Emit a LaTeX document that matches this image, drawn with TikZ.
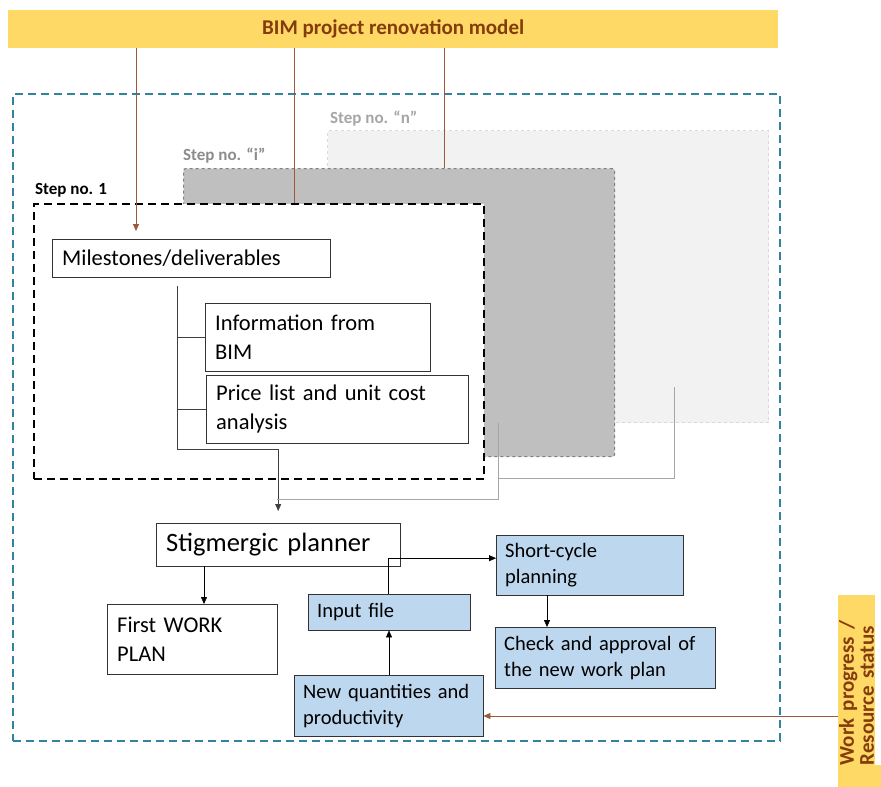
\documentclass[tikz,border=0pt]{standalone}
\usepackage{fontspec}
\setmainfont{Carlito}
\usetikzlibrary{arrows.meta,positioning}
\definecolor{baryellow}{HTML}{FFD966}
\definecolor{textbrown}{HTML}{843C0C}
\definecolor{linebrown}{HTML}{9C5A3C}
\definecolor{frameteal}{HTML}{31849B}
\definecolor{boxblue}{HTML}{BDD7EE}
\definecolor{lightstep}{HTML}{F2F2F2}
\definecolor{darkstep}{HTML}{BFBFBF}
\definecolor{linegray}{HTML}{A6A6A6}
\newcommand{\fsz}[2]{\fontsize{#1}{#2}\selectfont}

\begin{document}
\begin{tikzpicture}[
	x=1pt,y=-1pt,
	box/.style={
		draw=black!80,
		fill=white,
		anchor=north west,
		align=left,
		inner xsep=10pt,
		inner ysep=2pt,
		font=\fsz{22.5}{29}},
	bluebox/.style={box,fill=boxblue,inner xsep=9pt,font=\fsz{20.5}{26}},
	stepbox/.style={anchor=north west,inner sep=0pt,dashed,line width=1.2pt},
	steplabel/.style={anchor=south west,inner sep=0pt,font=\bfseries\fsz{17}{19}},
	myarrow/.style={-{Triangle[length=7pt,width=6pt]}},
	brownline/.style={draw=linebrown,line width=0.8pt},
	grayline/.style={draw=linegray,line width=0.9pt}
	]
	\clip (0,0) rectangle (881,787);
	\fill[white] (0,0) rectangle (881,787);
	
	% top bar and outer frame
	\node[fill=baryellow,anchor=north west,minimum width=770pt,minimum height=38pt,
		font=\bfseries\fsz{21}{24},text=textbrown] (bim) at (8,10) {BIM project renovation model};
	\node[draw=frameteal,dash pattern=on 8pt off 5pt,line width=1.5pt,anchor=north west,
		minimum width=767pt,minimum height=647pt] (frame) at (12,93) {};
	
	% steps
	\node[stepbox,draw=black!15,fill=lightstep,minimum width=441pt,minimum height=292pt] (stepn) at (327,130) {};
	\node[steplabel,text=black!35] (labn) at (330,126) {Step no. “n”};
	\node[stepbox,draw=black!50,fill=darkstep,rounded corners=2pt,minimum width=431pt,minimum height=288pt] (stepi) at (183,168) {};
	\node[steplabel,text=black!45] (labi) at (183,163) {Step no. “i”};
	\node[stepbox,draw=black,fill=white,dash pattern=on 8pt off 5pt,line width=1.8pt,minimum width=450pt,minimum height=275pt] (stepone) at (33,203) {};
	\node[steplabel] (labone) at (35,197) {Step no. 1};
	
	% boxes
	\node[box,text width=258pt,minimum height=38pt] (ms) at (52,239) {Milestones/deliverables};
	\node[box,text width=205pt,minimum height=68pt] (info) at (205,303) {Information from\\BIM};
	\node[box,text width=242pt,minimum height=68pt] (price) at (206,375) {Price list and unit cost\\analysis};
	\node[box,text width=224pt,minimum height=43pt,font=\fsz{26.5}{30}] (stig) at (156,523) {Stigmergic planner};
	\node[box,text width=150pt,minimum height=70pt] (first) at (107,604) {First WORK\\PLAN};
	\node[bluebox,text width=144pt,minimum height=36pt] (input) at (308,594) {Input file};
	\node[bluebox,text width=171pt,minimum height=61pt] (newq) at (294,675) {New quantities and\\productivity};
	\node[bluebox,text width=169pt,minimum height=60pt] (short) at (496,535) {Short-cycle\\planning};
	\node[bluebox,text width=202pt,minimum height=61pt] (check) at (495,627) {Check and approval of\\the new work plan};
	
	% work progress bar
	\node[rotate=90,anchor=north east,fill=baryellow,minimum width=170pt,text width=170pt,
		inner xsep=0pt,inner ysep=1pt,align=left,font=\bfseries\fsz{21}{20},text=textbrown] (work) at (838,595)
		{Work progress /\\Resource status};
	\fill[baryellow] (work.north west) rectangle (881,787);
	
	% connectors from the model
	\draw[brownline,myarrow,shorten >=8pt] (136,0 |- bim.south) -- (136,0 |- ms.north);
	\draw[brownline] (294,0 |- bim.south) -- (294,0 |- stepone.north);
	\draw[brownline] (444,0 |- bim.south) -- (444,0 |- stepi.north);
	
	% tree of step 1
	\coordinate (trunk) at (177,286);
	\coordinate (trunkend) at (177,449);
	\draw[black!75] (trunk) |- (info.west);
	\draw[black!75] (trunk) |- (price.west);
	\draw[black!75,myarrow,shorten >=12pt] (trunk) -- (trunkend) -| (stig.north);
	
	% other steps
	\coordinate (iout) at (498,423);
	\coordinate (nout) at (674,387);
	\draw[grayline] (iout) |- (277,499);
	\draw[grayline] (nout) |- (iout |- 0,478);
	
	% planning loop
	\draw[myarrow] (stig.south -| 204,0) -- (first.north -| 204,0);
	\draw[myarrow] (newq.north -| 389,0) -- (input.south -| 389,0);
	\draw[myarrow] (input.north -| 388,0) |- ([yshift=7pt]short.west);
	\draw[myarrow] (short.south -| 547,0) -- (check.north -| 547,0);
	\draw[brownline,myarrow] (work.north |- 0,716) -- (newq.east |- 0,716);
	
\end{tikzpicture}
\end{document}
